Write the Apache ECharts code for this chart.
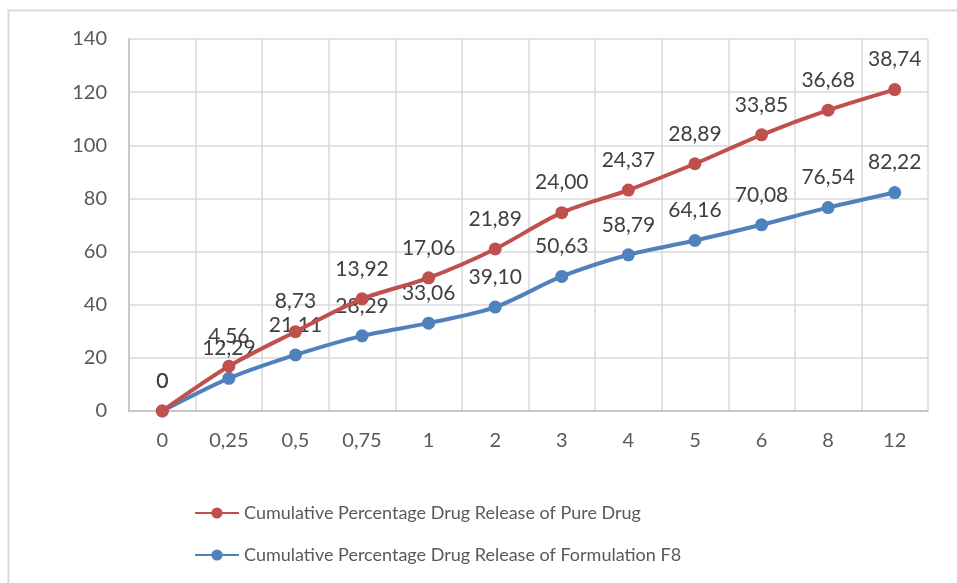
<!DOCTYPE html>
<html><head><meta charset="utf-8">
<script src="https://cdn.jsdelivr.net/npm/echarts@6/dist/echarts.min.js"></script>
<style>html,body{margin:0;padding:0;background:#fff}#c{width:957px;height:583px}</style>
</head><body><div id="c"></div>
<script>
const categories = ['0','0,25','0,5','0,75','1','2','3','4','5','6','8','12'];
const formulationF8 = [0, 12.29, 21.11, 28.29, 33.06, 39.10, 50.63, 58.79, 64.16, 70.08, 76.54, 82.22];
const pureDrug = [0, 4.56, 8.73, 13.92, 17.06, 21.89, 24.00, 24.37, 28.89, 33.85, 36.68, 38.74];
const yTicks = [0, 20, 40, 60, 80, 100, 120, 140];
const nameF8 = 'Cumulative Percentage Drug Release of Formulation F8';
const namePure = 'Cumulative Percentage Drug Release of Pure Drug';

const FONT = 'Lato';
const fmt = p => p.value === 0 ? '0' : p.value.toFixed(2).replace('.', ',');
const chart = echarts.init(document.getElementById('c'));
const labelCfg = {show: true, position: 'top', distance: 13, color: '#404040', fontSize: 21, fontFamily: FONT, formatter: fmt};
chart.setOption({
  animation: false,
  textStyle: {fontFamily: FONT},
  graphic: [{type: 'polyline', shape: {points: [[8.5, 583], [8.5, 10.5], [957, 10.5]]}, style: {stroke: '#d9d9d9', lineWidth: 2, fill: null}}],
  grid: {left: 129, right: 29, top: 39, bottom: 172, containLabel: false},
  legend: {
    orient: 'vertical', left: 189, top: 499, itemGap: 24, itemWidth: 44, itemHeight: 14,
    data: [namePure, nameF8],
    textStyle: {fontSize: 18, color: '#595959', fontFamily: FONT}
  },
  xAxis: {
    type: 'category', data: categories, boundaryGap: true,
    axisLine: {lineStyle: {color: '#bfbfbf', width: 1.5}},
    axisTick: {show: false},
    splitLine: {show: true, interval: 0, lineStyle: {color: '#d9d9d9', width: 1.5}},
    axisLabel: {color: '#595959', fontSize: 20, fontFamily: FONT, margin: 20, interval: 0}
  },
  yAxis: {
    type: 'value', min: yTicks[0], max: yTicks[yTicks.length - 1], interval: 20,
    axisLine: {show: true, lineStyle: {color: '#bfbfbf', width: 1.5}},
    axisTick: {show: false},
    splitLine: {lineStyle: {color: '#d9d9d9', width: 1.5}},
    axisLabel: {color: '#595959', fontSize: 20, fontFamily: FONT, margin: 22}
  },
  series: [
    {name: nameF8, type: 'line', stack: 'total', data: formulationF8, smooth: 0.3,
     symbol: 'circle', symbolSize: 13, color: '#4F81BD', lineStyle: {width: 4, color: '#4F81BD'},
     itemStyle: {color: '#4F81BD'}, label: labelCfg, z: 3},
    {name: namePure, type: 'line', stack: 'total', data: pureDrug, smooth: 0.3,
     symbol: 'circle', symbolSize: 13, color: '#C0504D', lineStyle: {width: 4, color: '#C0504D'},
     itemStyle: {color: '#C0504D'}, label: labelCfg, z: 4}
  ]
});
</script></body></html>
